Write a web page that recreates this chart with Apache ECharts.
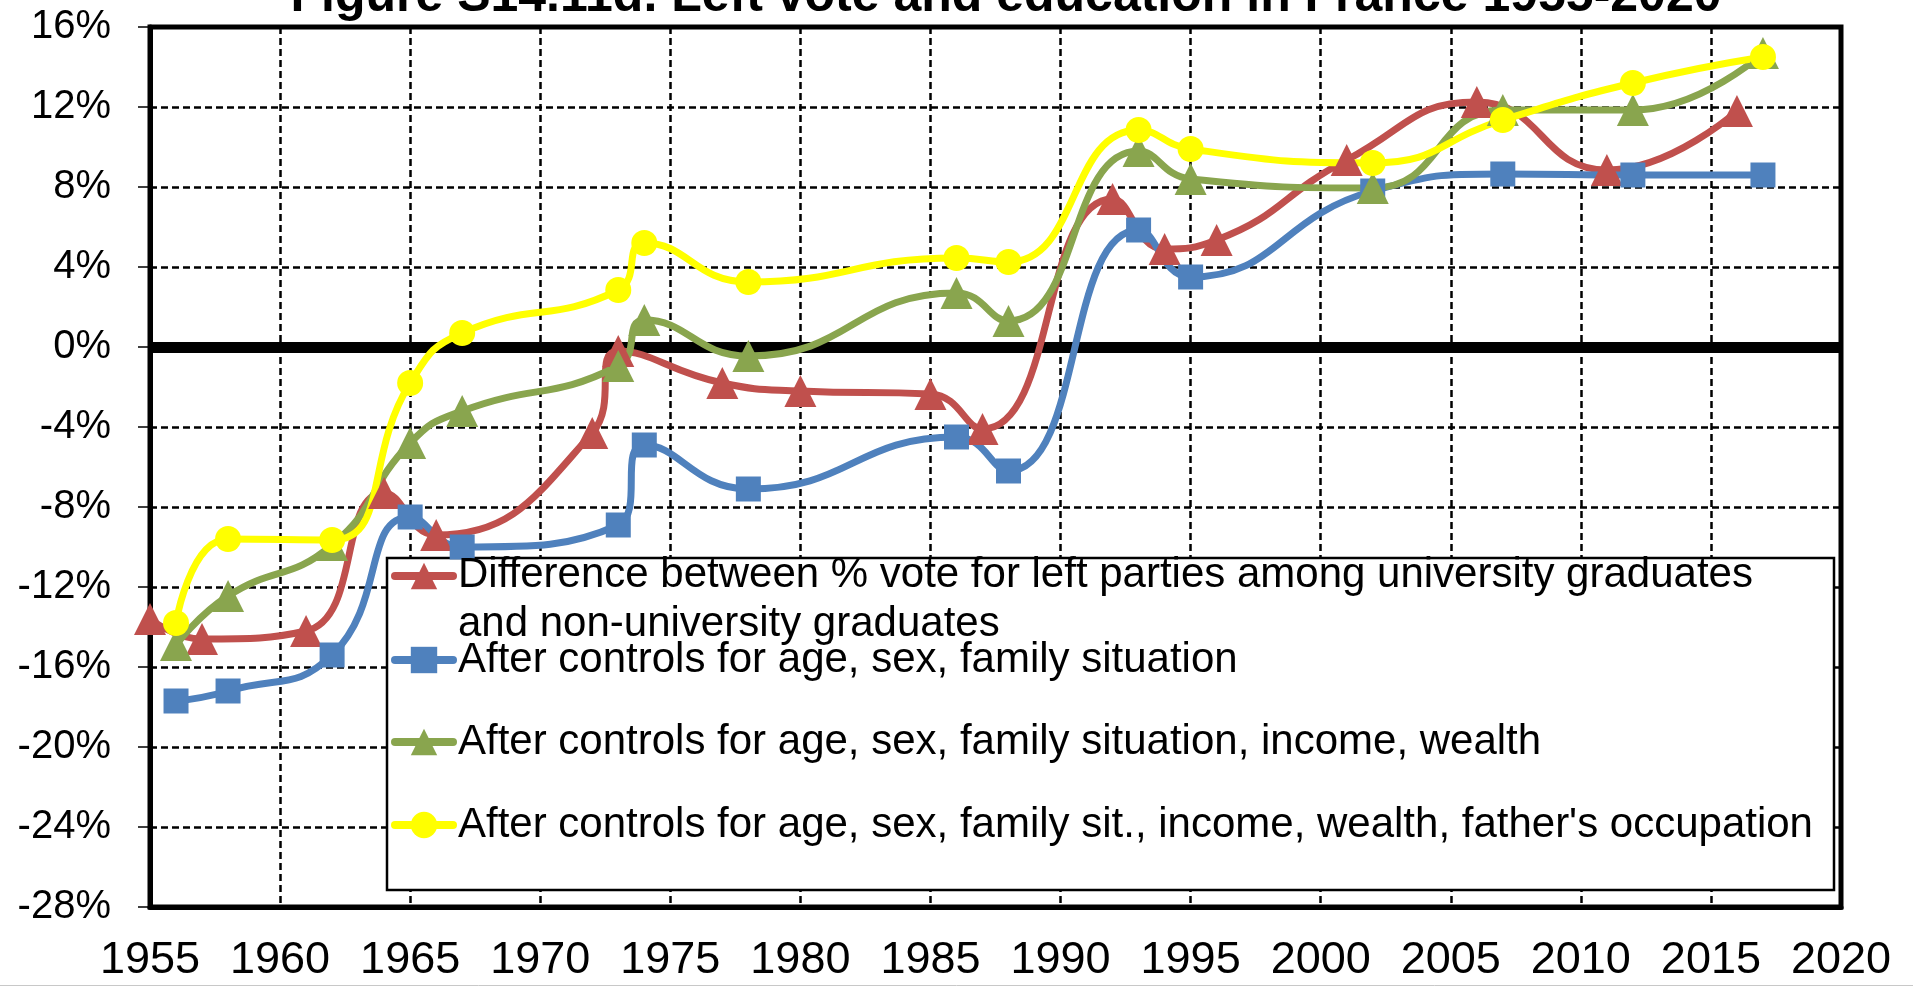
<!DOCTYPE html>
<html>
<head>
<meta charset="utf-8">
<title>Left vote and education in France 1955-2020</title>
<script src="https://cdn.jsdelivr.net/npm/echarts@6.0.0/dist/echarts.min.js"></script>
<style>
  html, body { margin: 0; padding: 0; background: #fff; }
  #chart { width: 1913px; height: 986px; }
</style>
</head>
<body>
<div id="chart"></div>
<script>
// values (percentage points)
const redYears = [1955, 1957, 1961, 1964, 1966, 1972, 1973, 1977, 1980, 1985, 1987, 1992, 1994, 1996, 2001, 2006, 2011, 2016];
const redValues = [-13.6, -14.6, -14.2, -7.3, -9.4, -4.3, -0.2, -1.8, -2.2, -2.35, -4.1, 7.4, 4.9, 5.35, 9.35, 12.25, 8.85, 11.8];

const ctrlYears = [1956, 1958, 1962, 1965, 1967, 1973, 1974, 1978, 1986, 1988, 1993, 1995, 2002, 2007, 2012, 2017];
const blueValues = [-17.7, -17.2, -15.4, -8.5, -10.0, -8.9, -4.9, -7.1, -4.5, -6.2, 5.85, 3.5, 7.8, 8.65, 8.6, 8.6];
const greenValues = [-14.9, -12.45, -9.9, -4.8, -3.2, -0.95, 1.35, -0.45, 2.7, 1.3, 9.8, 8.4, 7.95, 11.85, 11.85, 14.7];
const yellowValues = [-13.8, -9.6, -9.65, -1.8, 0.7, 2.85, 5.2, 3.25, 4.45, 4.25, 10.85, 9.9, 9.2, 11.35, 13.2, 14.5];

const redNameLines = ['Difference between % vote for left parties among university graduates', 'and non-university graduates'];
const seriesNames = [
  redNameLines.join(' '),
  'After controls for age, sex, family situation',
  'After controls for age, sex, family situation, income, wealth',
  "After controls for age, sex, family sit., income, wealth, father's occupation"
];
const titleText = 'Figure S14.11d. Left vote and education in France 1955-2020';

const FONT = "'Liberation Sans', Arial, sans-serif";
const colors = ['#C0504D', '#4F81BD', '#89A54E', '#FFFF00'];

const pairs = (xs, ys) => xs.map((x, i) => [x, ys[i]]);

const chart = echarts.init(document.getElementById('chart'));

const makeSeries = (name, data, color, symbol, size) => ({
  name: name,
  type: 'line',
  data: data,
  smooth: true,
  symbol: symbol,
  symbolSize: size,
  showSymbol: true,
  lineStyle: { color: color, width: 7 },
  itemStyle: { color: color, borderWidth: 0 },
  emphasis: { disabled: true },
});

const redSeries = makeSeries(seriesNames[0], pairs(redYears, redValues), colors[0], 'triangle', 32);
// thick zero line, under the curves
redSeries.markLine = {
  silent: true,
  z: 1,
  symbol: 'none',
  label: { show: false },
  emphasis: { disabled: true },
  lineStyle: { color: '#000', width: 11, type: 'solid' },
  data: [{ yAxis: 0 }],
};

// one legend block per row so every row sits at its own height
const legendTops = [527, 639, 721, 804];
const legendText = {
  fontFamily: FONT,
  fontSize: 42,
  color: '#000',
  lineHeight: 42,
  rich: {
    a: { fontFamily: FONT, fontSize: 42, color: '#000', lineHeight: 96 },
    b: { fontFamily: FONT, fontSize: 42, color: '#000', lineHeight: 2 },
  },
};
const legends = seriesNames.map((name, i) => ({
  orient: 'vertical',
  left: 391,
  top: legendTops[i],
  padding: 0,
  itemWidth: 58,
  itemHeight: 33,
  selectedMode: false,
  data: [name],
  lineStyle: { width: 8, cap: 'round' },
  formatter: i === 0
    ? () => '{a|' + redNameLines[0] + '}\n{b|' + redNameLines[1] + '}'
    : (n) => n,
  textStyle: legendText,
}));

const option = {
  animation: false,
  backgroundColor: '#fff',
  title: {
    text: titleText,
    left: 1006,
    top: -28,
    padding: 0,
    textAlign: 'center',
    textStyle: { fontFamily: FONT, fontSize: 50, fontWeight: 'bold', color: '#000' },
  },
  grid: {
    left: 150,
    right: 72,
    top: 27,
    bottom: 79,
    show: true,
    borderColor: '#000',
    borderWidth: 5,
    outerBoundsMode: 'none',
  },
  xAxis: {
    type: 'value',
    min: 1955,
    max: 2020,
    interval: 5,
    axisLine: { onZero: false, lineStyle: { color: '#000', width: 5 } },
    axisTick: { show: false },
    axisLabel: {
      color: '#000',
      fontFamily: FONT,
      fontSize: 45,
      margin: 31,
      formatter: (v) => String(v),
    },
    splitLine: { show: true, lineStyle: { color: '#000', width: 2.5, type: [7, 4] } },
  },
  yAxis: {
    type: 'value',
    min: -28,
    max: 16,
    interval: 4,
    axisLine: { show: true, onZero: false, lineStyle: { color: '#000', width: 5 } },
    axisTick: { show: true, length: 12, lineStyle: { color: '#000', width: 1.5 } },
    axisLabel: {
      color: '#000',
      fontFamily: FONT,
      fontSize: 40,
      margin: 39,
      formatter: '{value}%',
    },
    splitLine: { show: true, lineStyle: { color: '#000', width: 2.5, type: [7, 4] } },
  },
  legend: legends,
  graphic: [
    {
      // legend frame
      type: 'rect',
      z: 3,
      shape: { x: 387, y: 558, width: 1447, height: 332 },
      style: { fill: '#fff', stroke: '#000', lineWidth: 2.5 },
    },
    {
      type: 'line',
      z: 3,
      shape: { x1: 0, y1: 985.5, x2: 1913, y2: 985.5 },
      style: { stroke: '#c8c8c8', lineWidth: 1 },
    },
  ],
  series: [
    redSeries,
    makeSeries(seriesNames[1], pairs(ctrlYears, blueValues), colors[1], 'rect', 25),
    makeSeries(seriesNames[2], pairs(ctrlYears, greenValues), colors[2], 'triangle', 32),
    makeSeries(seriesNames[3], pairs(ctrlYears, yellowValues), colors[3], 'circle', 26),
  ],
};

chart.setOption(option);
</script>
</body>
</html>
